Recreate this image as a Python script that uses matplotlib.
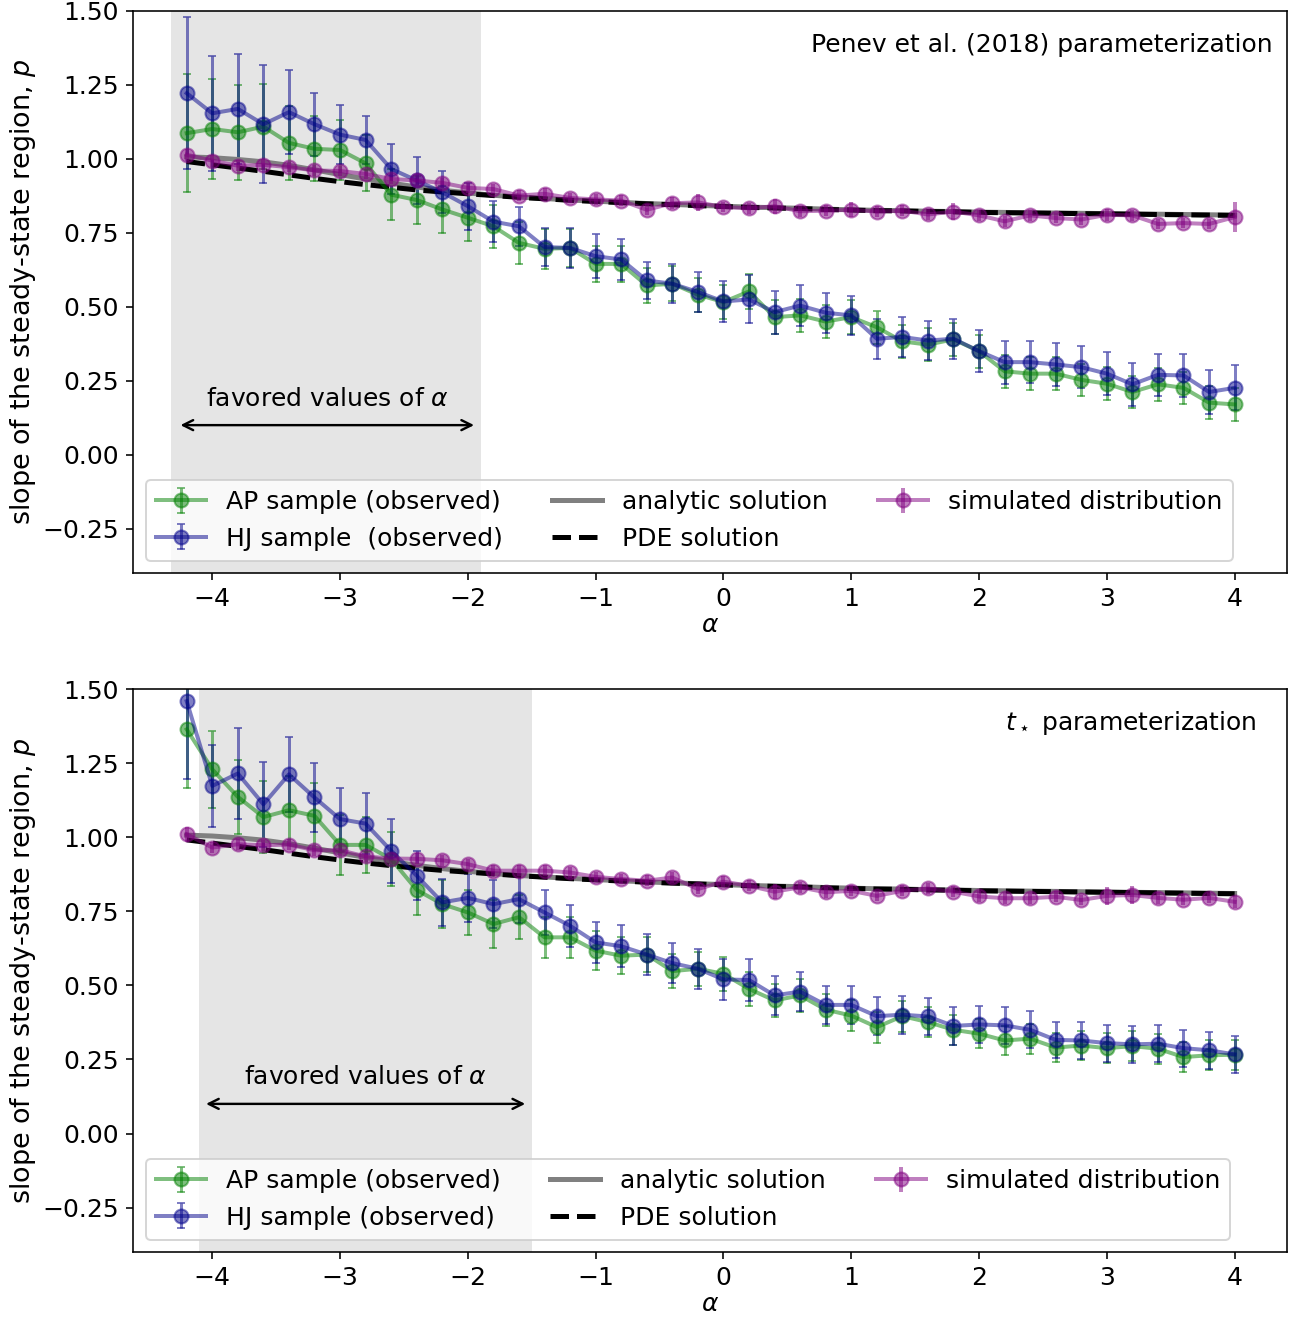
import numpy as np
import matplotlib
matplotlib.use("Agg")
import matplotlib.pyplot as plt

plt.rcParams['font.size'] = 12.5

alpha = np.round(np.arange(-4.2, 4.01, 0.2), 1)

# analytic / PDE curves (same in both panels)
analytic = [1.007, 1.004, 0.998, 0.990, 0.978, 0.963, 0.947, 0.932, 0.918, 0.905,
            0.894, 0.885, 0.877, 0.871, 0.866, 0.861, 0.857, 0.853, 0.849, 0.846,
            0.843, 0.840, 0.837, 0.835, 0.833, 0.830, 0.828, 0.826, 0.825, 0.823,
            0.822, 0.820, 0.819, 0.818, 0.817, 0.816, 0.815, 0.814, 0.813, 0.812,
            0.811, 0.810]
pde = [0.991, 0.980, 0.969, 0.958, 0.946, 0.934, 0.923, 0.913, 0.904, 0.895,
       0.888, 0.882, 0.876, 0.870, 0.865, 0.860, 0.856, 0.852, 0.848, 0.845,
       0.842, 0.839, 0.836, 0.834, 0.832, 0.829, 0.827, 0.825, 0.824, 0.822,
       0.821, 0.819, 0.818, 0.817, 0.816, 0.815, 0.814, 0.813, 0.812, 0.811,
       0.810, 0.809]

# top panel: Penev et al. (2018)
ap_top = [1.087, 1.101, 1.090, 1.109, 1.054, 1.034, 1.030, 0.985, 0.879, 0.861,
          0.829, 0.801, 0.772, 0.716, 0.696, 0.699, 0.645, 0.645, 0.572, 0.578,
          0.541, 0.516, 0.552, 0.465, 0.471, 0.450, 0.465, 0.431, 0.383, 0.372,
          0.390, 0.350, 0.282, 0.274, 0.274, 0.253, 0.240, 0.212, 0.238, 0.226,
          0.176, 0.170]
ap_top_err = [0.200, 0.170, 0.160, 0.143, 0.126, 0.110, 0.100, 0.095, 0.087, 0.081,
              0.079, 0.077, 0.072, 0.070, 0.068, 0.065, 0.062, 0.062, 0.060, 0.060,
              0.058, 0.058, 0.058, 0.057, 0.057, 0.057, 0.057, 0.056, 0.056, 0.056,
              0.056, 0.056, 0.055, 0.055, 0.055, 0.055, 0.055, 0.055, 0.055, 0.055,
              0.055, 0.057]
hj_top = [1.222, 1.154, 1.169, 1.117, 1.158, 1.117, 1.082, 1.064, 0.966, 0.927,
          0.887, 0.840, 0.788, 0.772, 0.702, 0.699, 0.671, 0.660, 0.589, 0.578,
          0.550, 0.518, 0.525, 0.482, 0.504, 0.480, 0.471, 0.392, 0.398, 0.386,
          0.392, 0.350, 0.313, 0.313, 0.305, 0.296, 0.274, 0.238, 0.270, 0.268,
          0.212, 0.226]
hj_top_err = [0.257, 0.195, 0.185, 0.200, 0.142, 0.106, 0.100, 0.080, 0.085, 0.079,
              0.071, 0.079, 0.069, 0.066, 0.065, 0.068, 0.075, 0.070, 0.062, 0.065,
              0.069, 0.069, 0.081, 0.073, 0.068, 0.067, 0.067, 0.068, 0.067, 0.067,
              0.068, 0.070, 0.073, 0.070, 0.072, 0.072, 0.072, 0.072, 0.072, 0.072,
              0.075, 0.076]
sim_top = [1.014, 0.994, 0.977, 0.980, 0.972, 0.961, 0.959, 0.949, 0.932, 0.927,
           0.919, 0.902, 0.898, 0.876, 0.882, 0.868, 0.863, 0.859, 0.828, 0.850,
           0.853, 0.837, 0.833, 0.840, 0.823, 0.825, 0.828, 0.822, 0.825, 0.812,
           0.822, 0.809, 0.789, 0.809, 0.800, 0.795, 0.811, 0.809, 0.780, 0.783,
           0.780, 0.803]
sim_top_err = [0.020, 0.020, 0.018, 0.018, 0.018, 0.018, 0.018, 0.018, 0.018, 0.018,
               0.018, 0.018, 0.018, 0.018, 0.018, 0.018, 0.018, 0.018, 0.018, 0.020,
               0.028, 0.018, 0.018, 0.025, 0.018, 0.018, 0.025, 0.018, 0.018, 0.018,
               0.030, 0.018, 0.018, 0.018, 0.018, 0.018, 0.020, 0.018, 0.018, 0.018,
               0.018, 0.050]

# bottom panel: t_star parameterization
ap_bot = [1.364, 1.229, 1.136, 1.068, 1.091, 1.072, 0.974, 0.974, 0.926, 0.822,
          0.774, 0.746, 0.707, 0.730, 0.662, 0.662, 0.617, 0.600, 0.604, 0.548,
          0.556, 0.539, 0.488, 0.449, 0.466, 0.418, 0.398, 0.359, 0.396, 0.376,
          0.350, 0.337, 0.314, 0.320, 0.290, 0.297, 0.288, 0.295, 0.286, 0.258,
          0.264, 0.266]
ap_bot_err = [0.197, 0.130, 0.126, 0.120, 0.115, 0.110, 0.100, 0.095, 0.090, 0.085,
              0.080, 0.077, 0.080, 0.075, 0.070, 0.068, 0.065, 0.062, 0.060, 0.058,
              0.058, 0.058, 0.056, 0.055, 0.055, 0.054, 0.053, 0.052, 0.052, 0.051,
              0.051, 0.050, 0.050, 0.050, 0.050, 0.050, 0.050, 0.050, 0.050, 0.050,
              0.050, 0.050]
hj_bot = [1.459, 1.173, 1.215, 1.111, 1.212, 1.134, 1.061, 1.046, 0.954, 0.870,
          0.780, 0.795, 0.774, 0.791, 0.746, 0.701, 0.645, 0.632, 0.604, 0.575,
          0.556, 0.520, 0.518, 0.466, 0.479, 0.434, 0.434, 0.396, 0.401, 0.395,
          0.363, 0.368, 0.365, 0.350, 0.316, 0.314, 0.305, 0.301, 0.303, 0.288,
          0.281, 0.267]
hj_bot_err = [0.264, 0.137, 0.154, 0.143, 0.126, 0.118, 0.106, 0.104, 0.107, 0.082,
              0.079, 0.080, 0.080, 0.080, 0.075, 0.070, 0.070, 0.070, 0.068, 0.068,
              0.068, 0.068, 0.070, 0.066, 0.065, 0.065, 0.064, 0.064, 0.064, 0.063,
              0.063, 0.063, 0.063, 0.062, 0.062, 0.062, 0.062, 0.062, 0.062, 0.062,
              0.062, 0.062]
sim_bot = [1.010, 0.965, 0.976, 0.973, 0.975, 0.956, 0.956, 0.935, 0.928, 0.927,
           0.922, 0.909, 0.887, 0.887, 0.887, 0.881, 0.866, 0.859, 0.853, 0.864,
           0.825, 0.850, 0.836, 0.816, 0.831, 0.814, 0.819, 0.802, 0.819, 0.827,
           0.816, 0.800, 0.794, 0.794, 0.799, 0.788, 0.802, 0.805, 0.795, 0.789,
           0.795, 0.782]
sim_bot_err = [0.025, 0.018, 0.018, 0.018, 0.018, 0.018, 0.018, 0.018, 0.018, 0.018,
               0.018, 0.018, 0.018, 0.018, 0.018, 0.018, 0.018, 0.018, 0.018, 0.020,
               0.018, 0.018, 0.018, 0.025, 0.018, 0.018, 0.018, 0.018, 0.018, 0.020,
               0.018, 0.018, 0.018, 0.018, 0.018, 0.018, 0.030, 0.030, 0.020, 0.018,
               0.018, 0.020]

panels = [
    dict(ap=ap_top, ape=ap_top_err, hj=hj_top, hje=hj_top_err, sim=sim_top, sime=sim_top_err,
         span=(-4.32, -1.9), arrow=(-4.28, -1.92), hj_label='HJ sample  (observed)',
         title='Penev et al. (2018) parameterization', tx=4.3),
    dict(ap=ap_bot, ape=ap_bot_err, hj=hj_bot, hje=hj_bot_err, sim=sim_bot, sime=sim_bot_err,
         span=(-4.1, -1.5), arrow=(-4.08, -1.52), hj_label='HJ sample (observed)',
         title=r'$t_\star$ parameterization', tx=4.17),
]

fig = plt.figure(figsize=(1294 / 144, 1321 / 144), dpi=144)
axes = [fig.add_axes([0.1028, 0.5662, 0.8918, 0.4255]),
        fig.add_axes([0.1028, 0.0522, 0.8918, 0.4262])]

for ax, p in zip(axes, panels):
    ax.axvspan(p['span'][0], p['span'][1], color='gray', alpha=0.2, lw=0, zorder=0)
    h_ap = ax.errorbar(alpha, p['ap'], yerr=p['ape'], fmt='-o', color='green', alpha=0.5,
                       lw=2, ms=7, capsize=2, elinewidth=1.5, label='AP sample (observed)')
    h_hj = ax.errorbar(alpha, p['hj'], yerr=p['hje'], fmt='-o', color='darkblue', alpha=0.5,
                       lw=2, ms=7, capsize=2, elinewidth=1.5, label=p['hj_label'])
    h_an, = ax.plot(alpha, analytic, color='gray', lw=2.5, label='analytic solution')
    h_pde, = ax.plot(alpha, pde, 'k--', lw=2.5, label='PDE solution')
    h_sim = ax.errorbar(alpha, p['sim'], yerr=p['sime'], fmt='-o', color='purple', alpha=0.5,
                        lw=2, ms=7, elinewidth=2, label='simulated distribution')

    ax.annotate('', xy=(p['arrow'][0], 0.1), xytext=(p['arrow'][1], 0.1),
                arrowprops=dict(arrowstyle='<->', color='k', lw=1.2))
    ax.text((p['arrow'][0] + p['arrow'][1]) / 2, 0.19, r'favored values of $\alpha$',
            ha='center', va='center')
    ax.text(p['tx'], 1.385, p['title'], ha='right', va='center')

    ax.set_xlim(-4.62, 4.41)
    ax.set_ylim(-0.4, 1.5)
    ax.set_xticks(np.arange(-4, 5, 1))
    ax.set_yticks([-0.25, 0.0, 0.25, 0.5, 0.75, 1.0, 1.25, 1.5])
    ax.set_xlabel(r'$\alpha$', fontsize=12.5, labelpad=1)
    ax.set_ylabel(r'slope of the steady-state region, $p$', fontsize=13.5, labelpad=2)
    ax.legend(handles=[h_ap, h_hj, h_an, h_pde, h_sim], loc='lower left', ncol=3)

fig.savefig('out.png', dpi=144)
